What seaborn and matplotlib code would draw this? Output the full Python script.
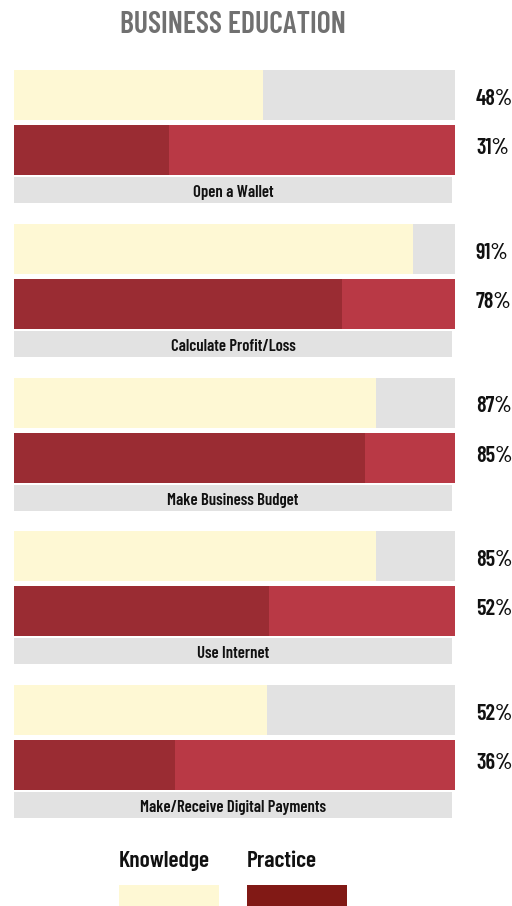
import matplotlib
matplotlib.use("Agg")
import matplotlib.pyplot as plt
from matplotlib.patches import Rectangle
import seaborn as sns
import pandas as pd

# ---------------- data ----------------
categories = ["Open a Wallet", "Calculate Profit/Loss", "Make Business Budget",
              "Use Internet", "Make/Receive Digital Payments"]
knowledge_pct = [48, 91, 87, 85, 52]          # printed labels
practice_pct = [31, 78, 85, 52, 36]
knowledge_bar = [0.565, 0.905, 0.821, 0.821, 0.574]   # bar length as drawn (share of track)
practice_bar = [0.351, 0.744, 0.796, 0.578, 0.365]
rows = ["Knowledge", "Practice"]
title = "BUSINESS EDUCATION"

# ---------------- style ----------------
sns.set_theme(style="white")
FONT = dict(family=["Barlow Condensed", "DejaVu Sans"], weight=600, stretch="condensed")

YELLOW = "#FEF8D4"
GRAY = "#E2E2E2"
DARK_RED = "#9A2C33"
LIGHT_RED = "#B93945"
LEGEND_RED = "#811915"
TITLE_C = "#707070"
TEXT_C = "#111111"

W, H = 512, 906
fig = plt.figure(figsize=(W / 100, H / 100), dpi=100)
fig.patch.set_facecolor("white")


def fx(x):
    return x / W


def fy(y):
    return 1 - y / H


fig.text(fx(233), fy(33), title, ha="center", va="baseline",
         fontsize=21.5, color=TITLE_C, **FONT)

X0, X1 = 14, 455
for i, cat in enumerate(categories):
    top = 70 + i * 153.75
    ax = fig.add_axes([fx(X0), fy(top + 105), (X1 - X0) / W, 105 / H])
    track = pd.DataFrame({"row": rows, "value": [1.0, 1.0]})
    vals = pd.DataFrame({"row": rows, "value": [knowledge_bar[i], practice_bar[i]]})
    sns.barplot(data=track, x="value", y="row", hue="row", order=rows, hue_order=rows,
                palette=[GRAY, LIGHT_RED], orient="h", width=50 / 55, saturation=1,
                linewidth=0, legend=False, ax=ax)
    sns.barplot(data=vals, x="value", y="row", hue="row", order=rows, hue_order=rows,
                palette=[YELLOW, DARK_RED], orient="h", width=50 / 55, saturation=1,
                linewidth=0, legend=False, ax=ax)
    ax.set_xlim(0, 1)
    ax.set_ylim(1 + 25 / 55, -25 / 55)
    ax.axis("off")

    # category label bar
    lab = fig.add_axes([fx(X0), fy(top + 107 + 26), 438 / W, 26 / H])
    lab.set_facecolor(GRAY)
    lab.set_xticks([])
    lab.set_yticks([])
    for s in lab.spines.values():
        s.set_visible(False)
    lab.text(0.5, 1 - 20 / 26, cat, ha="center", va="baseline", fontsize=12,
             color=TEXT_C, transform=lab.transAxes, **FONT)

    fig.text(fx(476), fy(top + 35), f"{knowledge_pct[i]}%", ha="left", va="baseline",
             fontsize=16, color=TEXT_C, **FONT)
    fig.text(fx(476), fy(top + 84), f"{practice_pct[i]}%", ha="left", va="baseline",
             fontsize=16, color=TEXT_C, **FONT)

# legend
for x, name, col in [(119, "Knowledge", YELLOW), (247, "Practice", LEGEND_RED)]:
    fig.text(fx(x), fy(867), name, ha="left", va="baseline", fontsize=17,
             color=TEXT_C, **FONT)
    fig.patches.append(Rectangle((fx(x), fy(906)), 100 / W, 21 / H,
                                 transform=fig.transFigure, facecolor=col,
                                 edgecolor="none"))

fig.savefig("out.png", dpi=100)
